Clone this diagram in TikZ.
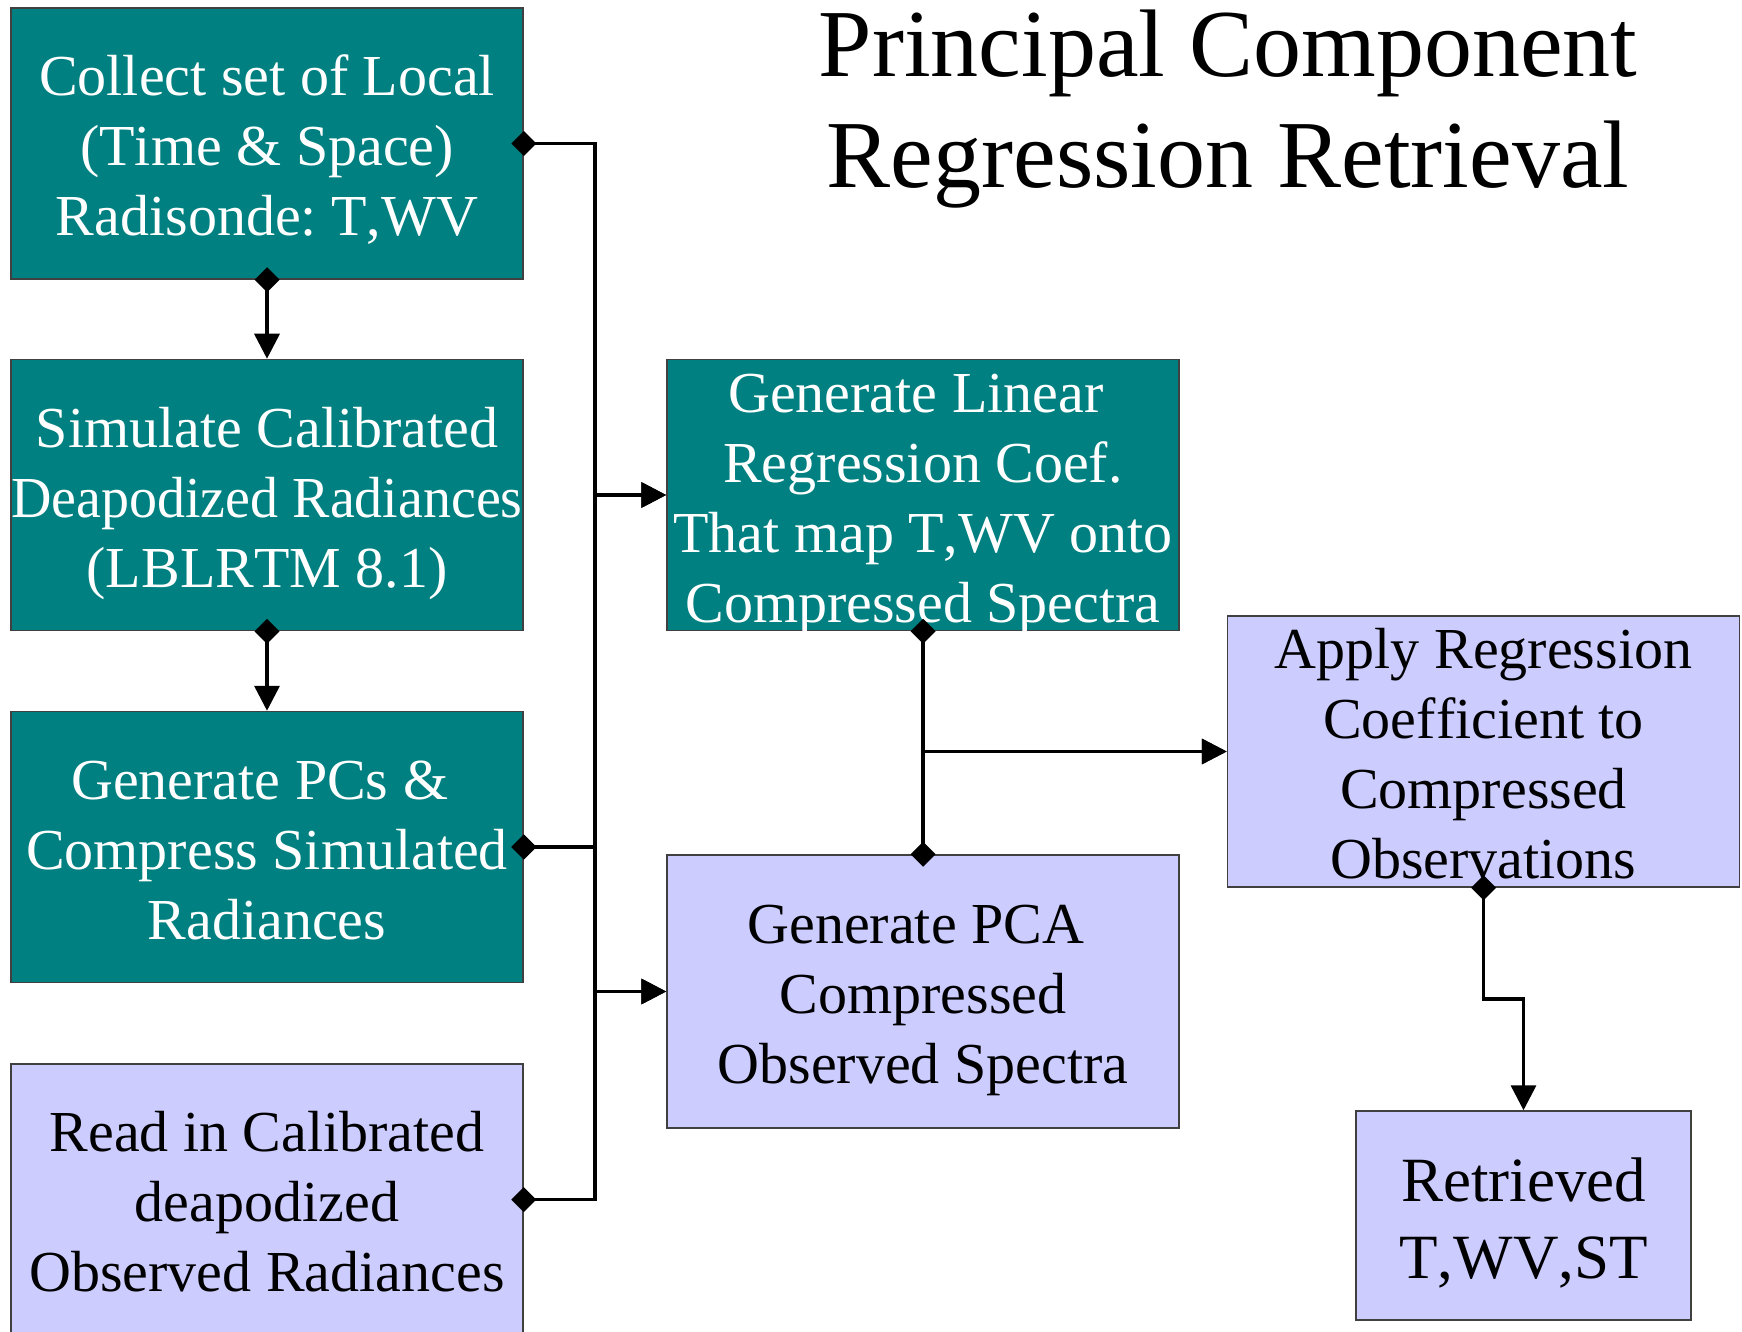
\documentclass[tikz,border=0pt]{standalone}
\usepackage{fontspec}
\usepackage{graphicx}
\setmainfont{Liberation Serif}[Kerning=Off]
\usetikzlibrary{arrows.meta}
\definecolor{tealbox}{RGB}{0,128,128}
\definecolor{lavbox}{RGB}{204,204,255}
\newcommand\bxs{\rule[-13bp]{0pt}{70bp}}
\newcommand\rts{\rule[-14.5bp]{0pt}{77bp}}
\newcommand\tsp{\hspace*{14.5bp}}
\frenchspacing
\tikzset{
  box/.style={draw=black!75, line width=1.5bp, inner sep=0pt,
    minimum width=512bp, minimum height=271bp},
  tealb/.style={box, fill=tealbox},
  lavb/.style={box, fill=lavbox},
  txw/.style={inner sep=0pt, align=center, text=white,
    font=\fontsize{58bp}{70bp}\selectfont},
  txb/.style={txw, text=black},
  txr/.style={inner sep=0pt, align=center, text=black,
    font=\fontsize{63bp}{77bp}\selectfont},
  conn/.style={line width=3.5bp, line join=miter,
    {Diamond[length=25bp,width=25bp]}-{Triangle[length=25bp,width=25bp]},
    shorten <=-12.5bp},
  ttl/.style={anchor=base, inner sep=0pt, font=\fontsize{96bp}{111bp}\selectfont}
}
\begin{document}
\begin{tikzpicture}[x=1bp,y=-1bp]
\useasboundingbox (0,0) rectangle (1742,1332);
\fill[white] (0,0) rectangle (1742,1332);
\node[ttl] (t1) at (1228,76.5) {Principal Component};
\node[ttl] (t2) at (1228,187.5) {Regression Retrieval};

\node[tealb, label={[txw]center:{\bxs Collect set of Local\\\bxs (Time \& Space)\\\bxs Radisonde: T,WV}}] (b1) at (267,143.5) {};
\node[tealb, label={[txw]center:{\bxs Simulate Calibrated\\\bxs\scalebox{0.965}[1]{Deapodized Radiances}\\\bxs (LBLRTM 8.1)}}] (b2) at (267,495) {};
\node[tealb, label={[txw]center:{\bxs Generate PCs \&\tsp\\\bxs Compress Simulated\\\bxs Radiances}}] (b3) at (267,847) {};
\node[lavb, label={[txb]center:{\bxs Read in Calibrated\\\bxs deapodized\\\bxs Observed Radiances}}] (b4) at (267,1199.5) {};

\node[tealb, label={[txw]center:{\bxs Generate Linear\tsp\\\bxs Regression Coef.\tsp\\\bxs That map T,WV onto\\\bxs Compressed Spectra}}] (b5) at (923,495) {};
\node[lavb, minimum height=273bp, label={[txb]center:{\bxs Generate PCA\tsp\\\bxs Compressed\tsp\\\bxs Observed Spectra}}] (b6) at (923,991.5) {};
\node[lavb, label={[txb]center:{\bxs Apply Regression\\\bxs Coefficient to\tsp\\\bxs Compressed\tsp\\\bxs Observations}}] (b7) at (1483.5,751.5) {};
\node[lavb, minimum width=335bp, minimum height=209bp,
  label={[txr]center:{\rts Retrieved\\\rts T,WV,ST}}] (b8) at (1523.5,1215.5) {};

\coordinate (tr) at (595,0);
\coordinate (elb) at (1523.5,999);

\draw[conn] (b1.south) -- (b2.north);
\draw[conn] (b2.south) -- (b3.north);
\draw[conn] (b1.east) -- (b1.east -| tr) |- (b5.west);
\draw[conn] (b3.east) -- (b3.east -| tr) |- (b5.west);
\draw[conn] (b3.east) -- (b3.east -| tr) |- (b6.west);
\draw[conn] (b4.east) -- (b4.east -| tr) |- (b6.west);
\draw[conn] (b5.south) |- (b7.west);
\draw[conn] (b6.north) |- (b7.west);
\draw[conn] (b7.south) |- (elb) -- (b8.north);
\end{tikzpicture}
\end{document}
